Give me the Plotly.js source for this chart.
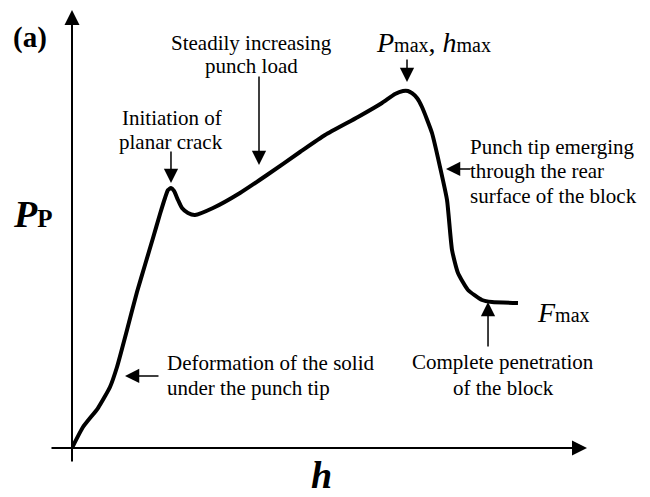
<!DOCTYPE html>
<html>
<head>
<meta charset="utf-8">
<script src="https://cdn.plot.ly/plotly-3.0.1.min.js"></script>
<style>html,body{margin:0;padding:0;background:#fff;}#chart{width:650px;height:497px;}</style>
</head>
<body>
<div id="chart"></div>
<script>
// Schematic punch load (P_P) vs penetration depth (h), arbitrary units 0-100
const h = [0, 2.14, 5.05, 7.38, 8.74, 10.68, 12.62, 14.17, 15.73, 17.09, 18.06, 18.64, 19.22, 19.81, 20.58, 21.36, 22.52, 23.88, 27.38, 32.62, 37.86, 44.27, 49.13, 55.53, 60.19, 62.72, 64.27, 65.24, 66.02, 66.99, 67.96, 69.9, 71.46, 72.82, 73.79, 74.95, 76.89, 79.61, 81.55, 86.6];
const P = [0, 4.79, 9.13, 13.93, 18.49, 26.94, 35.62, 41.78, 47.95, 53.42, 57.08, 58.9, 59.36, 58.68, 56.62, 54.79, 53.65, 53.2, 54.79, 58.22, 62.33, 67.58, 71.46, 75.57, 78.77, 80.82, 81.5, 81.5, 81.0, 79.91, 77.85, 71.92, 64.16, 56.62, 45.21, 39.95, 36.07, 33.79, 33.33, 33.11];

const serif = "Liberation Serif, Times New Roman, serif";
const lab = 21;

const trace = {
  x: h, y: P, type: 'scatter', mode: 'lines',
  line: {color: '#000', width: 4, shape: 'spline', smoothing: 0.5},
  hoverinfo: 'skip'
};

function txt(x, y, text, opts) {
  return Object.assign({xref: 'paper', yref: 'paper', x: x, y: y, text: text, showarrow: false,
    xanchor: 'center', yanchor: 'middle', font: {family: serif, size: lab, color: '#000'}}, opts || {});
}
function arr(x, y, ax, ay, w, s) {
  return {xref: 'x', yref: 'y', x: x, y: y, ax: ax, ay: ay, text: '', showarrow: true,
    arrowhead: 2, arrowsize: s || 1.9, arrowwidth: w || 1.5, arrowcolor: '#000', standoff: 0};
}

const annotations = [
  // axes with arrowheads
  {xref: 'paper', yref: 'paper', x: 0, y: 1, ax: 0, ay: 453, text: '', showarrow: true, arrowhead: 2, arrowsize: 1.5, arrowwidth: 2, arrowcolor: '#000'},
  {xref: 'paper', yref: 'paper', x: 1, y: 0, ax: -537, ay: 0, text: '', showarrow: true, arrowhead: 2, arrowsize: 1.5, arrowwidth: 2, arrowcolor: '#000'},
  // label arrows
  arr(19.22, 60.5, 0, -33),
  arr(36.31, 64.61, 0, -90),
  arr(65.05, 83.56, 0, -24),
  arr(72.62, 63.7, 26, 0),
  arr(80.78, 33.33, 0, 46),
  arr(10.29, 16.44, 35, 0),
  // texts
  txt(-0.0825, 0.938, '<b>(a)</b>', {font: {family: serif, size: 29, color: '#000'}}),
  txt(-0.0757, 0.534, "<b><i>P</i></b><span style='font-size:25px'><b>P</b></span>", {font: {family: serif, size: 38, color: '#000'}}),
  txt(0.4835, -0.062, '<b><i>h</i></b>', {font: {family: serif, size: 38, color: '#000'}}),
  txt(0.7029, 0.9258, "<i>P</i><span style='font-size:20px'>max</span>, <i>h</i><span style='font-size:20px'>max</span>", {font: {family: serif, size: 28, color: '#000'}}),
  txt(0.899, 0.3094, "<i>F</i><span style='font-size:20px'>max</span>", {xanchor: 'left', font: {family: serif, size: 28, color: '#000'}}),
  txt(0.3476, 0.9247, 'Steadily increasing'),
  txt(0.3495, 0.8721, 'punch load'),
  txt(0.1942, 0.7534, 'Initiation of'),
  txt(0.1922, 0.6986, 'planar crack'),
  txt(0.7689, 0.6872, 'Punch tip emerging', {xanchor: 'left'}),
  txt(0.7689, 0.6324, 'through the rear', {xanchor: 'left'}),
  txt(0.7689, 0.5753, 'surface of the block', {xanchor: 'left'}),
  txt(0.8369, 0.1963, 'Complete penetration'),
  txt(0.8388, 0.1370, 'of the block'),
  txt(0.1806, 0.1941, 'Deformation of the solid', {xanchor: 'left'}),
  txt(0.1806, 0.1370, 'under the punch tip', {xanchor: 'left'})
];

const layout = {
  width: 650, height: 497,
  margin: {l: 72, r: 63, t: 10, b: 49, pad: 0},
  paper_bgcolor: '#fff', plot_bgcolor: '#fff',
  showlegend: false,
  xaxis: {range: [0, 100], visible: false, fixedrange: true},
  yaxis: {range: [0, 100], visible: false, fixedrange: true},
  annotations: annotations
};

Plotly.newPlot('chart', [trace], layout, {displayModeBar: false, staticPlot: true});
</script>
</body>
</html>
